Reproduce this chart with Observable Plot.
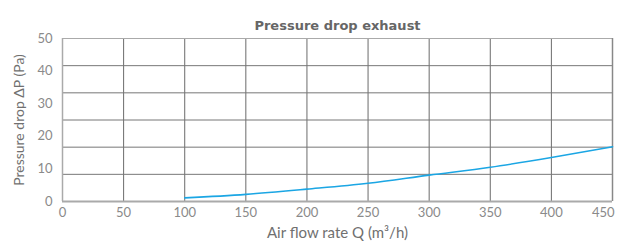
<!DOCTYPE html>
<html>
<head>
<meta charset="utf-8">
<script src="https://cdn.jsdelivr.net/npm/d3@7"></script>
<script src="https://cdn.jsdelivr.net/npm/@observablehq/plot@0.6"></script>
<style>
  html, body { margin: 0; padding: 0; background: #fff; }
  #chart svg { display: block; }
</style>
</head>
<body>
<div id="chart"></div>
<script>
const title = "Pressure drop exhaust";
const xLabel = "Air flow rate Q (m³/h)";
const yLabel = "Pressure drop ΔP (Pa)";
const xTicks = [0, 50, 100, 150, 200, 250, 300, 350, 400, 450];
const yTicks = [0, 10, 20, 30, 40, 50];
const yGrid = [0, 8.333, 16.667, 25, 33.333, 41.667, 50];
const flow = [100, 150, 200, 250, 300, 350, 400, 450];
const pressure = [1.1, 2.2, 3.8, 5.6, 8.1, 10.5, 13.5, 16.8];

const data = flow.map((q, i) => ({q, p: pressure[i]}));
const font = "Lato, 'Open Sans', sans-serif";

const chart = Plot.plot({
  width: 617,
  height: 242,
  marginLeft: 62,
  marginRight: 5,
  marginTop: 38,
  marginBottom: 41,
  style: {fontFamily: font, background: "#fff"},
  x: {domain: [0, 450]},
  y: {domain: [0, 50]},
  marks: [
    Plot.ruleX(xTicks.slice(1, -1), {stroke: "#6b6b6b", strokeWidth: 1}),
    Plot.ruleY(yGrid.slice(1, -1), {stroke: "#777", strokeWidth: 1}),
    Plot.ruleY([50], {stroke: "#aaa", strokeWidth: 1}),
    Plot.ruleX([450], {stroke: "#888", strokeWidth: 1.5}),
    Plot.ruleX([0], {stroke: "#aaa", strokeWidth: 1.5}),
    Plot.ruleY([0], {stroke: "#aaa", strokeWidth: 2}),
    Plot.line(data, {x: "q", y: "p", stroke: "#1ba6e4", strokeWidth: 1.6, curve: "monotone-x"}),
    Plot.axisX(xTicks.slice(0, -1), {tickSize: 0, tickPadding: 6, fontSize: 13, fill: "#8a8a8a", label: null}),
    Plot.axisX(xTicks.slice(-1), {tickSize: 0, tickPadding: 6, fontSize: 13, fill: "#8a8a8a", label: null, textAnchor: "end", dx: 2}),
    Plot.axisY(yTicks, {tickSize: 0, tickPadding: 10, fontSize: 13, fill: "#8a8a8a", label: null}),
    Plot.text([xLabel], {frameAnchor: "bottom", dy: 36, fontSize: 15, fill: "#707070"}),
    Plot.text([yLabel], {frameAnchor: "left", dx: -43, rotate: -90, textAnchor: "middle", fontSize: 14, fill: "#707070"}),
    Plot.text([title], {frameAnchor: "top", dy: -18, fontSize: 13, fontWeight: "bold", fill: "#666", fontFamily: "'DejaVu Sans', sans-serif"})
  ]
});
document.getElementById("chart").appendChild(chart);
</script>
</body>
</html>
